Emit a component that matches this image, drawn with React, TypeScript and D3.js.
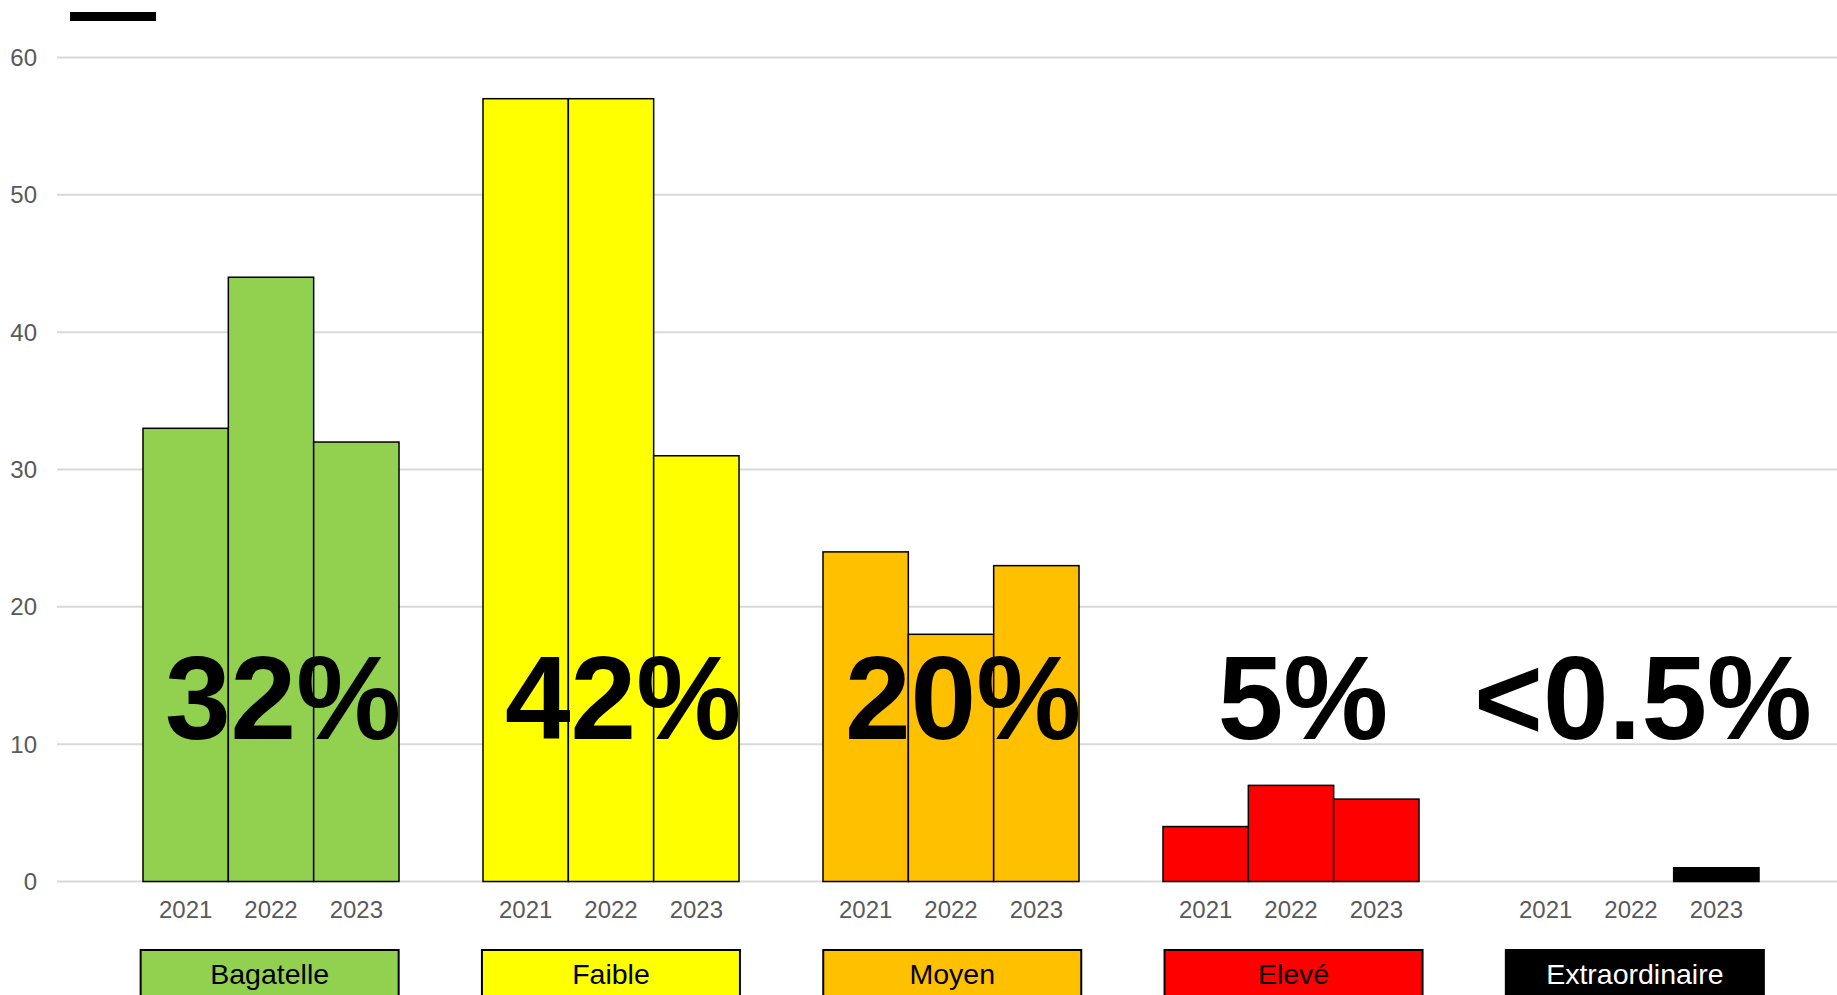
import React from "react";
import * as d3 from "d3";

const categories = ["Bagatelle", "Faible", "Moyen", "Elevé", "Extraordinaire"];
const years = ["2021", "2022", "2023"];
const values: number[][] = [
  [33, 44, 32],
  [57, 57, 31],
  [24, 18, 23],
  [4, 7, 6],
  [0, 0, 1],
];
const shares = ["32%", "42%", "20%", "5%", "<0.5%"];
const colors = ["#92D050", "#FFFF00", "#FFC000", "#FF0000", "#000000"];
const labelColors = ["#000000", "#000000", "#000000", "#000000", "#FFFFFF"];
const yTicks = [0, 10, 20, 30, 40, 50, 60];

const W = 1837;
const H = 995;
const FONT = "'Liberation Sans', Arial, Helvetica, sans-serif";

export default function App() {
  const x0 = d3
    .scaleBand<string>()
    .domain(categories)
    .range([101, 1801])
    .paddingInner(0.247)
    .paddingOuter(0.1235);
  const x1 = d3.scaleBand<string>().domain(years).range([0, x0.bandwidth()]).padding(0);
  const xBox = d3
    .scaleBand<string>()
    .domain(categories)
    .range([99, 99 + 5 * 341.3])
    .paddingInner(0.244)
    .paddingOuter(0.122);
  const y = d3.scaleLinear().domain([0, 60]).range([881.5, 57.5]);

  return (
    <div style={{ position: "fixed", left: 0, top: 0 }}>
      <svg width={W} height={H} style={{ display: "block", background: "#fff" }}>
        <rect x={70} y={12} width={86} height={9} fill="#000" />
        {yTicks.map((t) => (
          <g key={t}>
            <line x1={57} x2={W} y1={y(t)} y2={y(t)} stroke="#d9d9d9" strokeWidth={2} />
            <text
              x={37}
              y={y(t)}
              dy="0.36em"
              textAnchor="end"
              fontFamily={FONT}
              fontSize={24}
              fill="#595959"
            >
              {t}
            </text>
          </g>
        ))}
        {categories.map((c, ci) => {
          const gx = x0(c)!;
          const bx0 = xBox(c)!;
          return (
            <g key={c}>
              {years.map((yr, yi) => {
                const v = values[ci][yi];
                const bx = gx + x1(yr)!;
                return (
                  <g key={yr}>
                    {v > 0 && (
                      <rect
                        x={bx}
                        y={y(v)}
                        width={x1.bandwidth()}
                        height={y(0) - y(v)}
                        fill={colors[ci]}
                        stroke="#000"
                        strokeWidth={1.5}
                      />
                    )}
                    <text
                      x={bx + x1.bandwidth() / 2}
                      y={918}
                      textAnchor="middle"
                      fontFamily={FONT}
                      fontSize={24}
                      fill="#595959"
                    >
                      {yr}
                    </text>
                  </g>
                );
              })}
              <text
                x={gx + x0.bandwidth() / 2 + 12}
                y={739}
                textAnchor="middle"
                fontFamily={FONT}
                fontWeight="bold"
                fontSize={118}
                fill="#000"
              >
                {shares[ci]}
              </text>
              <rect
                x={bx0}
                y={950}
                width={xBox.bandwidth()}
                height={60}
                fill={colors[ci]}
                stroke="#000"
                strokeWidth={2}
              />
              <text
                x={bx0 + xBox.bandwidth() / 2}
                y={984}
                textAnchor="middle"
                fontFamily={FONT}
                fontSize={28.5}
                fill={labelColors[ci]}
              >
                {c}
              </text>
            </g>
          );
        })}
      </svg>
    </div>
  );
}
